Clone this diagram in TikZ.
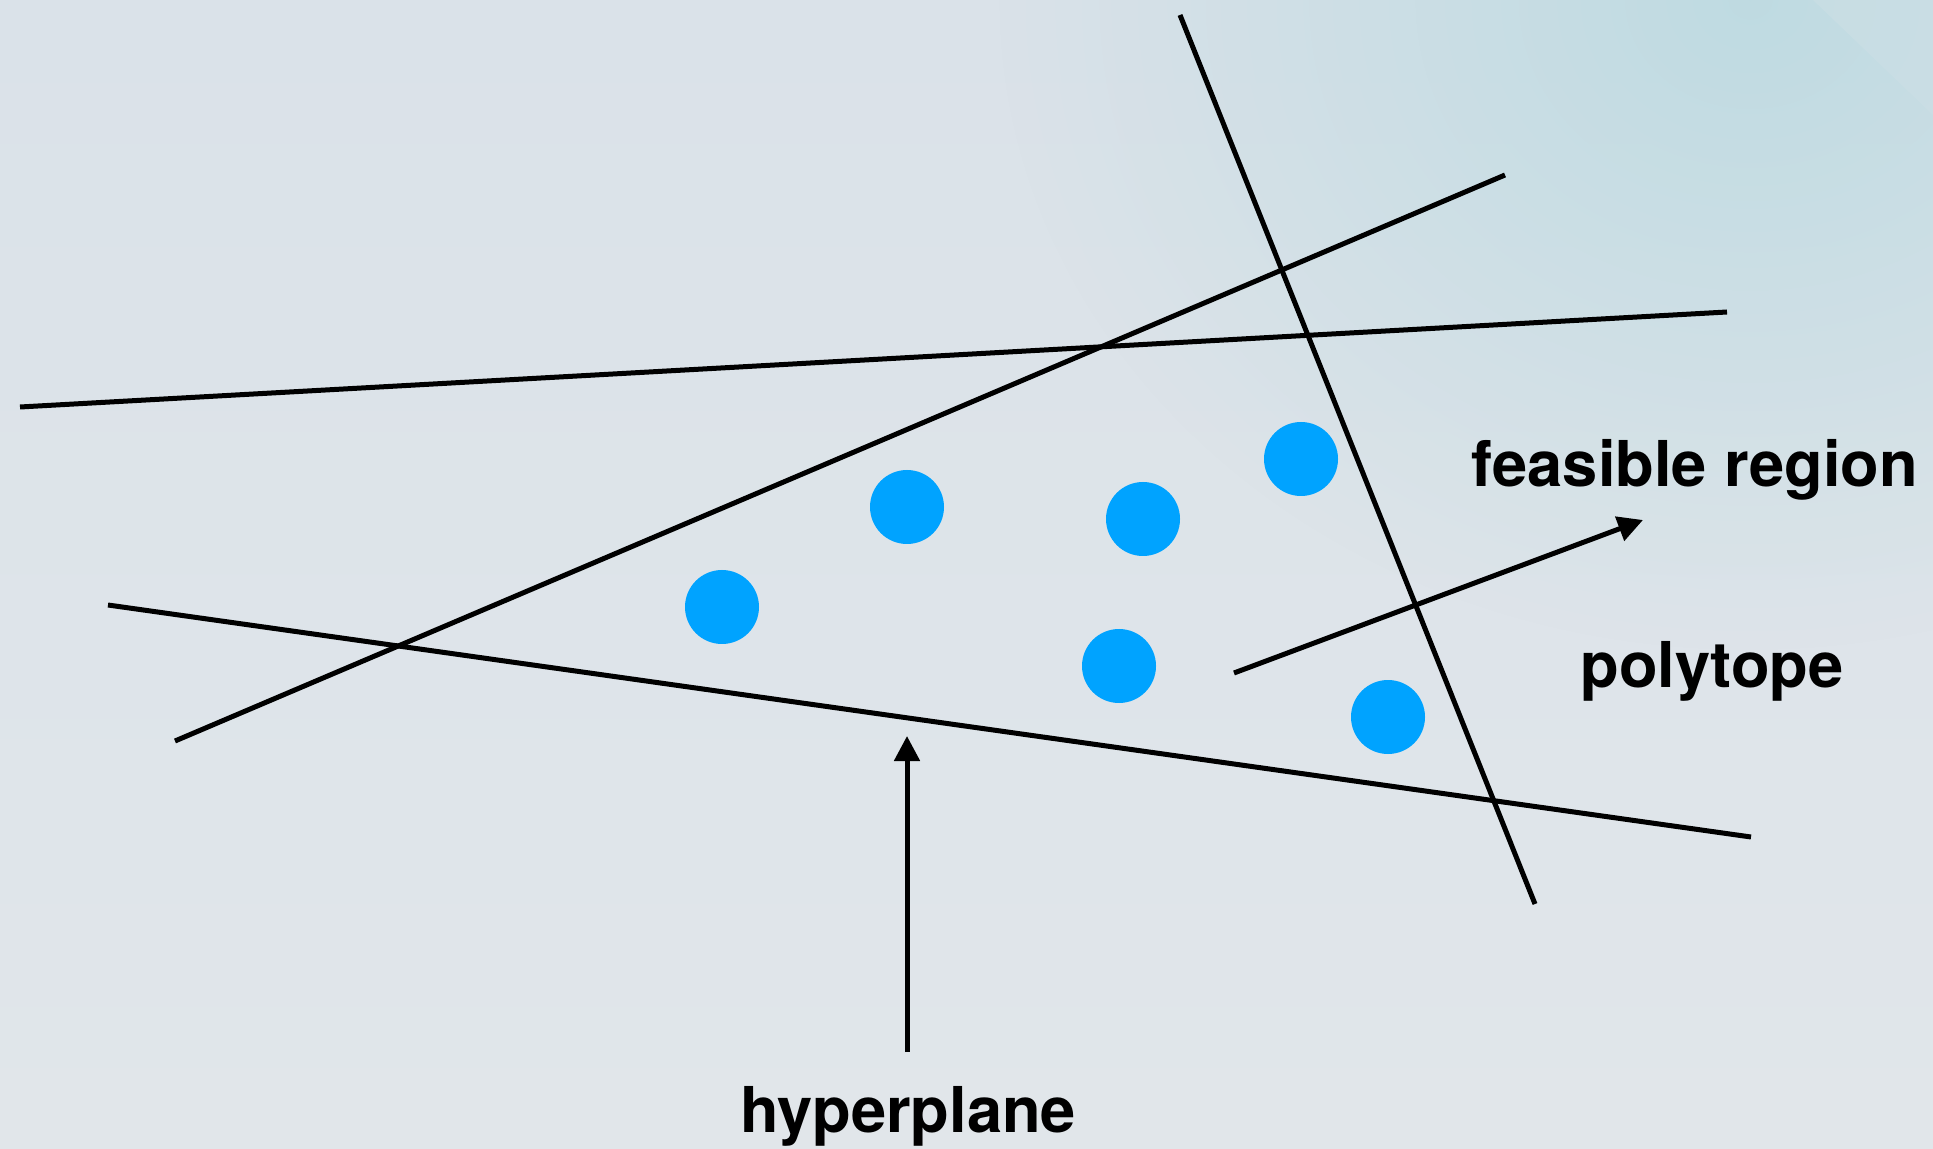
\documentclass[tikz,border=0pt]{standalone}
\usepackage{fontspec}
\setmainfont{TeX Gyre Heros}
\usetikzlibrary{arrows.meta,fadings}
\definecolor{bgtop}{HTML}{DAE2E9}
\definecolor{bgbot}{HTML}{E1E6EA}
\definecolor{tealglow}{HTML}{BCDAE1}
\definecolor{cornerc}{HTML}{CCDFE5}
\definecolor{dotblue}{HTML}{00A3FF}
\tikzfading[name=glowfade, inner color=transparent!0, outer color=transparent!100]
\tikzset{
  hline/.style={line width=2.5pt, black},
  ptr/.style={line width=2.5pt, black, -{Triangle[length=12.5pt,width=12.5pt]}},
  pt/.style={circle, fill=dotblue, inner sep=0pt, minimum size=37pt},
  lbl/.style={font=\fontsize{31.6}{36}\selectfont\bfseries, anchor=base, inner sep=0pt}
}
\begin{document}
\begin{tikzpicture}[x=0.5pt,y=-0.5pt]
  \useasboundingbox (0,0) rectangle (1933,1149);
  % background
  \begin{scope}
    \clip (0,0) rectangle (1933,1149);
    \shade[top color=bgtop, bottom color=bgbot] (0,0) rectangle (1933,1149);
    \fill[tealglow, path fading=glowfade, opacity=0.9] (1750,0) ellipse [x radius=750, y radius=650];
    \fill[cornerc, opacity=0.6] (1813,0) -- (1933,0) -- (1933,115) -- cycle;
  \end{scope}

  % hyperplane end points
  \coordinate (a1) at (1180,15);   \coordinate (a2) at (1535,904);
  \coordinate (b1) at (175,741);   \coordinate (b2) at (1505,175);
  \coordinate (c1) at (20,407);    \coordinate (c2) at (1727,312);
  \coordinate (d1) at (108,605);   \coordinate (d2) at (1751,837);
  \draw[hline] (a1) -- (a2);
  \draw[hline] (b1) -- (b2);
  \draw[hline] (c1) -- (c2);
  \draw[hline] (d1) -- (d2);

  % points
  \node[pt] (p1) at (722,607) {};
  \node[pt] (p2) at (907,507) {};
  \node[pt] (p3) at (1143,519) {};
  \node[pt] (p4) at (1301,459) {};
  \node[pt] (p5) at (1119,666) {};
  \node[pt] (p6) at (1388,717) {};

  % labels
  \node[lbl] (feas) at (1695,487) {feasible region};
  \node[lbl] (poly) at (1712,688) {polytope};
  \node[lbl] (hyp) at (908,1132) {hyperplane};

  % arrows
  \coordinate (h0) at (907,1052);  \coordinate (h1) at (907,736);
  \coordinate (f0) at (1234,673);  \coordinate (f1) at (1643,520);
  \draw[ptr] (h0) -- (h1);
  \draw[ptr] (f0) -- (f1);
\end{tikzpicture}
\end{document}
